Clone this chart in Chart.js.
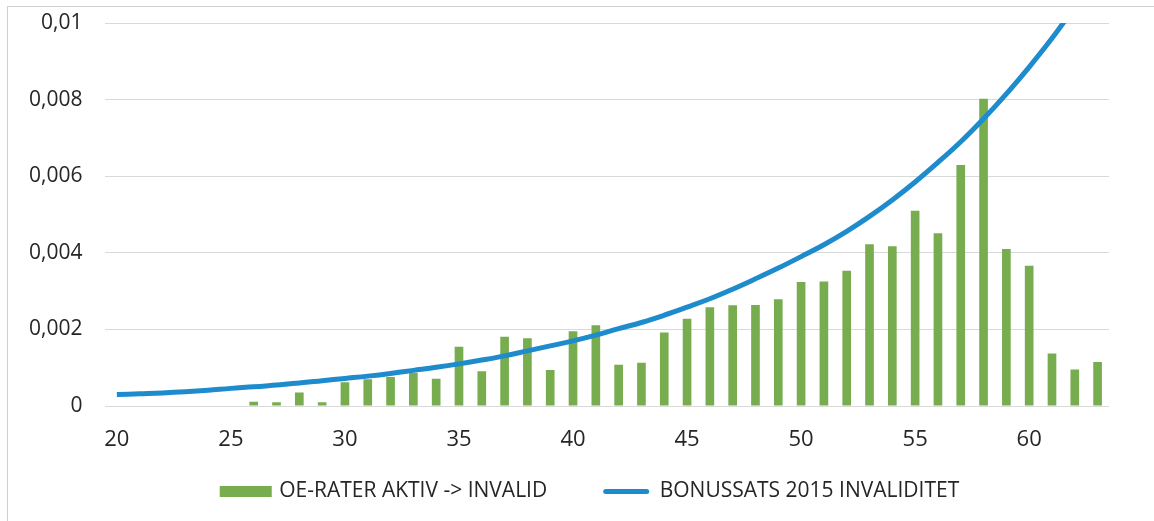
<!DOCTYPE html>
<html>
<head>
<meta charset="utf-8">
<script src="https://cdn.jsdelivr.net/npm/chart.js@4"></script>
<style>
  html, body { margin: 0; padding: 0; background: #fff; overflow: hidden; }
  #frame {
    position: absolute; left: 7px; top: 6px; width: 1300px; height: 700px;
    border-left: 1px solid #cfcfcf; border-top: 1px solid #cfcfcf;
  }
  #chart { position: absolute; left: 0; top: 0; }
</style>
</head>
<body>
<div id="frame"></div>
<canvas id="chart" width="1154" height="521"></canvas>
<script>
// ages on the x axis
const ages = [20, 21, 22, 23, 24, 25, 26, 27, 28, 29,
              30, 31, 32, 33, 34, 35, 36, 37, 38, 39,
              40, 41, 42, 43, 44, 45, 46, 47, 48, 49,
              50, 51, 52, 53, 54, 55, 56, 57, 58, 59,
              60, 61, 62, 63];

// bars: OE-RATER AKTIV -> INVALID
const oeRates = [null, null, null, null, null, null, 0.00011, 0.00010, 0.00035, 0.00010,
                 0.00062, 0.00070, 0.00076, 0.00087, 0.00071, 0.00155, 0.00091, 0.00181, 0.00177, 0.00094,
                 0.00195, 0.00211, 0.00108, 0.00113, 0.00192, 0.00228, 0.00258, 0.00263, 0.00264, 0.00279,
                 0.00324, 0.00325, 0.00353, 0.00422, 0.00417, 0.00510, 0.00451, 0.00629, 0.00802, 0.00410,
                 0.00366, 0.00137, 0.00095, 0.00115];

// line: BONUSSATS 2015 INVALIDITET
const bonusRates = [0.00030, 0.00032, 0.00034, 0.00037, 0.00041, 0.00046, 0.00050, 0.00055, 0.00060, 0.00066,
                    0.00072, 0.00078, 0.00085, 0.00093, 0.00101, 0.00110, 0.00120, 0.00131, 0.00144, 0.00157,
                    0.00170, 0.00185, 0.00202, 0.00218, 0.00237, 0.00258, 0.00280, 0.00305, 0.00332, 0.00360,
                    0.00390, 0.00421, 0.00456, 0.00495, 0.00538, 0.00585, 0.00636, 0.00690, 0.00750, 0.00815,
                    0.00885, 0.00960, 0.01042, null];

const xTickLabels = ['20', '25', '30', '35', '40', '45', '50', '55', '60'];
const yTickLabels = ['0', '0,002', '0,004', '0,006', '0,008', '0,01'];

const barColor = '#78ad4f';
const lineColor = '#1e8bcd';
const textColor = '#262626';
const fontFamily = '"Open Sans", sans-serif';

// put the legend where the original has it (a bit right of centre, close under the axis)
const legendPlace = {
    id: 'legendPlace',
    afterLayout: function(chart) {
        var lg = chart.legend;
        lg.left = 51;
        lg.right = 1131;
        lg.top = 425;
        lg.bottom = 521;
    }
};

new Chart(document.getElementById('chart'), {
    type: 'bar',
    data: {
        labels: ages,
        datasets: [{
            label: 'OE-RATER AKTIV -> INVALID',
            data: oeRates,
            backgroundColor: barColor,
            borderWidth: 0,
            categoryPercentage: 1,
            barPercentage: 0.38,
            order: 2
        },
        {
            type: 'line',
            label: 'BONUSSATS 2015 INVALIDITET',
            data: bonusRates,
            borderColor: lineColor,
            backgroundColor: lineColor,
            borderWidth: 5,
            pointRadius: 0,
            tension: 0.4,
            fill: false,
            clip: 0,
            order: 1
        }]
    },
    options: {
        responsive: false,
        animation: false,
        layout: {
            padding: { left: 6, right: 45, top: 23, bottom: 6.6 }
        },
        plugins: {
            tooltip: { enabled: false },
            legend: {
                position: 'bottom',
                maxHeight: 40,
                labels: {
                    color: textColor,
                    font: { family: fontFamily, size: 21 },
                    boxWidth: 46,
                    boxHeight: 5,
                    padding: 56,
                    generateLabels: function(chart) {
                        var items = Chart.defaults.plugins.legend.labels.generateLabels(chart);
                        items.sort(function(a, b) { return a.datasetIndex - b.datasetIndex; });
                        items.forEach(function(item) {
                            if (item.datasetIndex === 0) {
                                item.lineWidth = 6;
                                item.strokeStyle = barColor;
                                item.lineJoin = 'miter';
                            } else {
                                item.lineWidth = 0;
                                item.fillStyle = lineColor;
                                item.borderRadius = 2.5;
                            }
                        });
                        return items;
                    }
                }
            }
        },
        scales: {
            x: {
                grid: { display: false, drawTicks: false },
                border: { display: false },
                ticks: {
                    autoSkip: false,
                    maxRotation: 0,
                    minRotation: 0,
                    padding: 21,
                    color: textColor,
                    font: { family: fontFamily, size: 22 },
                    callback: function(value, index) {
                        var lab = String(ages[index]);
                        return xTickLabels.includes(lab) ? lab : '';
                    }
                }
            },
            y: {
                min: 0,
                max: 0.01,
                grid: { color: '#d9d9d9', lineWidth: 1, drawTicks: false },
                border: { display: false },
                ticks: {
                    stepSize: 0.002,
                    padding: 23,
                    color: textColor,
                    font: { family: fontFamily, size: 21 },
                    callback: function(value, index) { return yTickLabels[index]; }
                },
                // the big label gap should not push the plot down
                afterFit: function(scale) {
                    scale.paddingTop = 0;
                    scale.paddingBottom = 0;
                }
            }
        }
    },
    plugins: [legendPlace]
});
</script>
</body>
</html>
